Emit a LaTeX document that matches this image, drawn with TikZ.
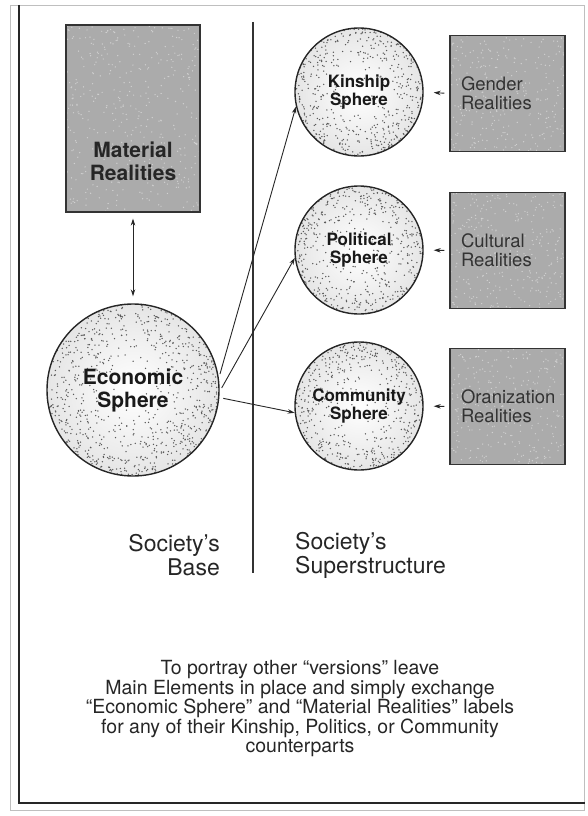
\documentclass[tikz,border=0pt]{standalone}
\usepackage{fontspec}
\setmainfont{TeX Gyre Heros}
\usetikzlibrary{arrows.meta}

% random dots for the spheres, denser toward the rim
\newcommand{\speckle}[3]{%
  \foreach \k in {1,...,#2}{
    \pgfmathsetmacro{\dota}{360*rnd}
    \pgfmathsetmacro{\dotr}{#1*rnd^0.3}
    \fill[#3] (path picture bounding box.center) ++(\dota:\dotr pt) circle (0.75pt);
  }}
% grain for the grey boxes
\newcommand{\grain}[4]{%
  \foreach \k in {1,...,#3}{
    \pgfmathsetmacro{\gx}{(rnd-0.5)*#1}
    \pgfmathsetmacro{\gy}{(rnd-0.5)*#2}
    \fill[#4] (path picture bounding box.center) ++(\gx pt,\gy pt) circle (0.7pt);
  }}

\tikzset{
  sphere/.style={circle, draw=black!85, line width=1.4pt, inner sep=0pt, align=center,
    text=black!90, shading=radial, inner color=white, outer color=black!10},
  bigsphere/.style={sphere, minimum size=172pt, font=\fontsize{21}{23}\selectfont\bfseries,
    path picture={\speckle{86}{800}{black!65}}},
  smallsphere/.style={sphere, minimum size=128pt, font=\fontsize{17}{18}\selectfont\bfseries,
    path picture={\speckle{64}{480}{black!65}}},
  realbox/.style={draw=black!80, line width=1.2pt, fill=black!33, inner sep=0pt},
  sidebox/.style={realbox, minimum width=115pt, minimum height=116pt, text width=93pt,
    align=left, font=\fontsize{18.5}{19}\selectfont, text=black!80,
    path picture={\grain{115}{116}{300}{black!18}}},
  link/.style={line width=0.9pt, draw=black!85, -{Stealth[length=7pt,width=4.5pt]}},
  caption/.style={align=center, text=black!85, inner sep=0pt}
}

\begin{document}
\begin{tikzpicture}[x=1pt,y=-1pt]
\useasboundingbox (0,0) rectangle (587,816);
\pgfmathsetseed{12}

% frame
\draw[black!25, line width=0.8pt] (10,5) rectangle (584,810);
\draw[black!85, line width=2.5pt] (19,5) -- (19,803) -- (585,803);

% base side
\node[realbox, minimum width=134pt, minimum height=187pt,
  path picture={\grain{134}{187}{420}{black!18}}] (material) at (133,118.5) {};
\node[caption, font=\fontsize{21}{23}\selectfont\bfseries] (materialtxt) at (133,161) {Material\\Realities};
\node[bigsphere] (economic) at (133,390) {Economic\\Sphere};

% superstructure side
\node[smallsphere] (kinship) at (359,92) {Kinship\\Sphere};
\node[smallsphere] (political) at (359,250) {Political\\Sphere};
\node[smallsphere] (community) at (359,406) {Community\\Sphere};

\node[sidebox] (gender) at (507.5,93.5) {Gender\\Realities};
\node[sidebox] (cultural) at (507.5,250.5) {Cultural\\Realities};
\node[sidebox] (organization) at (507.5,406.5) {Oranization\\Realities};

% divider
\coordinate (divtop) at (253,22);
\coordinate (divbot) at (253,573);
\draw[black!80, line width=1.4pt] (divtop) -- (divbot);

% arrows
\draw[link, {Stealth[length=7pt,width=4.5pt]}-{Stealth[length=7pt,width=4.5pt]},
  shorten <=6pt, shorten >=7pt] (material) -- (economic);
\draw[link, shorten <=4pt] (economic.8) -- (kinship.193);
\draw[link, shorten <=4pt] (economic.-1) -- (political.187);
\draw[link, shorten <=4pt] (economic.-5) -- (community.186);
\draw[link, shorten <=5pt, shorten >=10pt] (gender.west) -- (kinship.east);
\draw[link, shorten <=5pt, shorten >=10pt] (cultural.west) -- (political.east);
\draw[link, shorten <=5pt, shorten >=10pt] (organization.west) -- (community.east);

% labels
\node[caption, anchor=east, align=right, font=\fontsize{23}{24}\selectfont] (basetxt)
  at (220,555) {Society’s\\Base};
\node[caption, anchor=west, align=left, font=\fontsize{23}{24}\selectfont] (supertxt)
  at (295,555) {Society’s\\Superstructure};

\node[caption, font=\fontsize{19.5}{19.5}\selectfont] (note) at (300,709)
  {To portray other “versions” leave\\
   Main Elements in place and simply exchange\\
   “Economic Sphere” and “Material Realities” labels\\
   for any of their Kinship, Politics, or Community\\
   counterparts};
\end{tikzpicture}
\end{document}
